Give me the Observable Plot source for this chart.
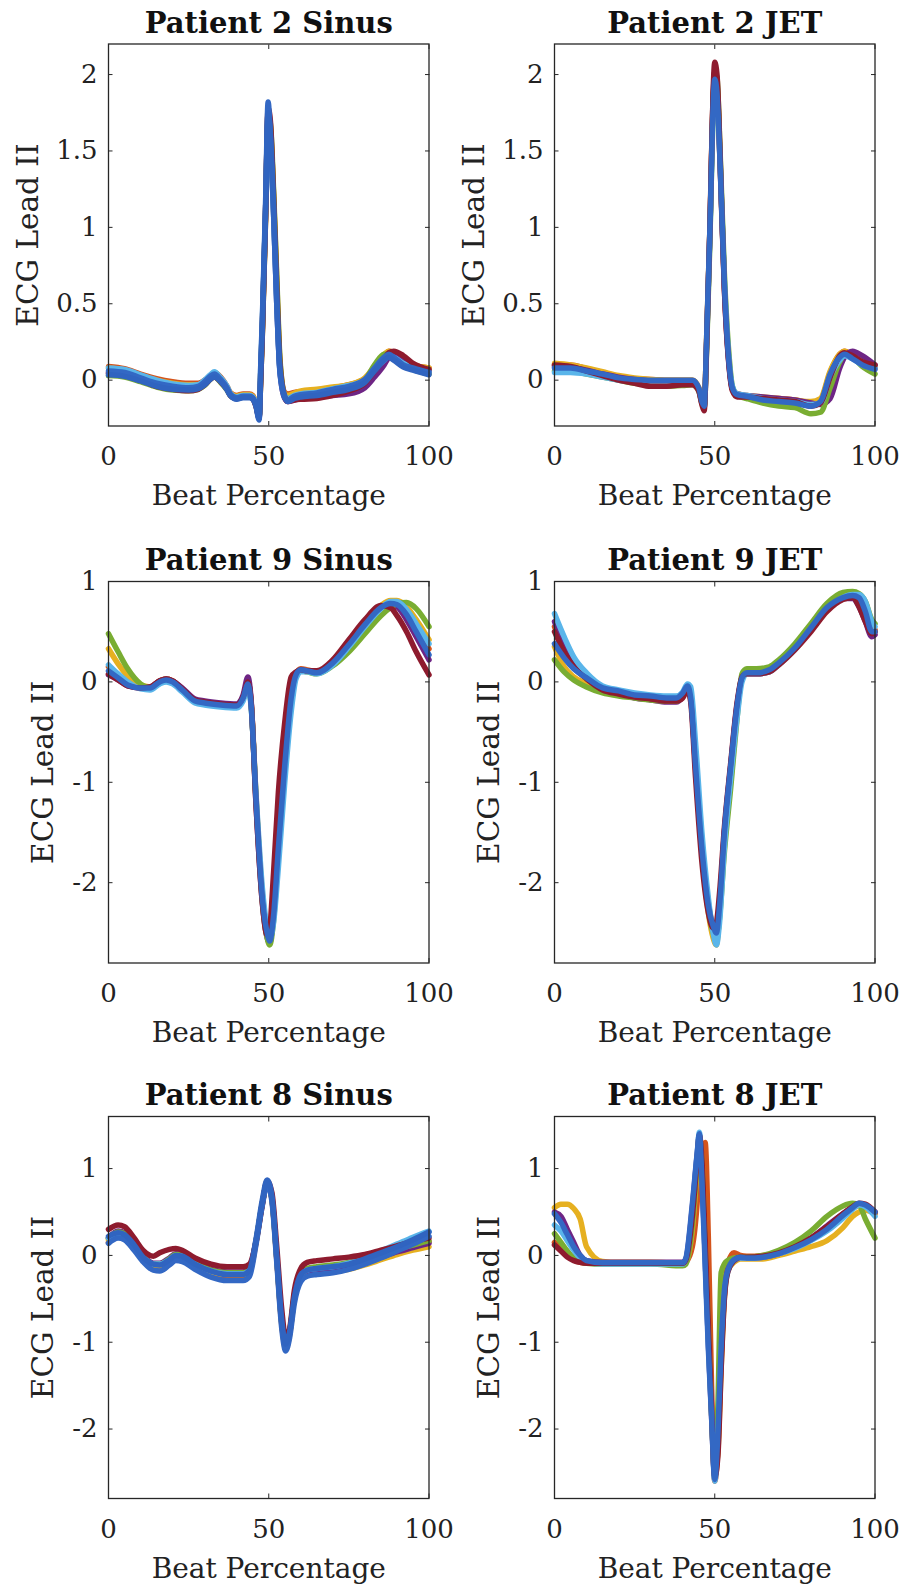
<!DOCTYPE html>
<html><head><meta charset="utf-8">
<script src="https://cdn.jsdelivr.net/npm/d3@7"></script>
<script src="https://cdn.jsdelivr.net/npm/@observablehq/plot@0.6"></script>
<style>
body{margin:0;background:#fff}
#chart{position:relative;width:902px;height:1594px;overflow:hidden;background:#fff}
#chart svg{position:absolute}
</style>
</head><body><div id="chart"></div>
<script>
// Trace colours (draw order): orange, yellow, purple, green, light blue, dark red, blue, blue
const traceColors = ["#D4541C","#E6B020","#6E2585","#79AD32","#5AB5EA","#8E1B2E","#3368C4","#3064C0"];
const xDomain = [0, 100];
const xTicks = [0, 50, 100];
const xLabel = "Beat Percentage";
const yLabel = "ECG Lead II";
const titles = ["Patient 2 Sinus","Patient 2 JET","Patient 9 Sinus","Patient 9 JET","Patient 8 Sinus","Patient 8 JET"];

// Patient 2 Sinus
const p2sX = [0,5,10,15,20,25,28,30,32,33,35,37,38,40,42,44,45,46,47,47.5,48,49,49.8,50.5,51.5,52.5,53.5,55,56,58,60,65,70,75,80,83,86,87.5,89,92,95,100];
const p2sY = [
 [0.09,0.075,0.04,0.01,-0.01,-0.02,-0.02,0.0,0.035,0.05,0.02,-0.04,-0.08,-0.1,-0.09,-0.09,-0.1,-0.15,-0.23,0.05,0.35,1.1,1.76,1.66,1.22,0.65,0.12,-0.08,-0.09,-0.08,-0.075,-0.07,-0.05,-0.03,0.01,0.08,0.16,0.19,0.18,0.14,0.1,0.08],
 [0.08,0.065,0.03,0.0,-0.02,-0.03,-0.03,-0.005,0.03,0.045,0.01,-0.045,-0.085,-0.105,-0.095,-0.095,-0.105,-0.15,-0.24,0.05,0.33,1.08,1.72,1.6,1.12,0.55,0.08,-0.09,-0.1,-0.085,-0.07,-0.06,-0.045,-0.03,0.015,0.09,0.17,0.19,0.17,0.13,0.1,0.08],
 [0.05,0.04,0.01,-0.03,-0.05,-0.06,-0.05,-0.02,0.02,0.03,0.0,-0.055,-0.095,-0.12,-0.11,-0.11,-0.12,-0.165,-0.25,0.02,0.32,1.1,1.7,1.6,1.1,0.5,0.06,-0.12,-0.14,-0.13,-0.12,-0.11,-0.1,-0.09,-0.05,0.02,0.1,0.15,0.17,0.15,0.1,0.06],
 [0.03,0.02,-0.01,-0.045,-0.065,-0.07,-0.06,-0.035,0.01,0.02,-0.015,-0.065,-0.1,-0.12,-0.11,-0.11,-0.12,-0.165,-0.24,0.0,0.3,1.05,1.7,1.68,1.25,0.68,0.14,-0.1,-0.12,-0.11,-0.1,-0.09,-0.07,-0.05,0.0,0.1,0.17,0.17,0.14,0.1,0.07,0.04],
 [0.08,0.07,0.035,0.0,-0.025,-0.035,-0.03,0.0,0.04,0.055,0.015,-0.04,-0.085,-0.11,-0.1,-0.1,-0.11,-0.15,-0.24,0.08,0.38,1.1,1.75,1.58,1.08,0.5,0.06,-0.1,-0.12,-0.1,-0.09,-0.08,-0.055,-0.035,0.0,0.07,0.13,0.16,0.15,0.11,0.085,0.06],
 [0.045,0.03,0.0,-0.04,-0.06,-0.07,-0.06,-0.03,0.01,0.02,-0.01,-0.06,-0.1,-0.12,-0.11,-0.11,-0.12,-0.17,-0.24,0.0,0.3,1.05,1.78,1.7,1.2,0.6,0.1,-0.11,-0.14,-0.13,-0.125,-0.12,-0.1,-0.07,-0.02,0.06,0.14,0.18,0.19,0.16,0.11,0.07],
 [0.06,0.05,0.015,-0.02,-0.04,-0.05,-0.04,-0.01,0.03,0.04,0.005,-0.05,-0.09,-0.115,-0.105,-0.105,-0.115,-0.16,-0.25,0.1,0.4,1.15,1.82,1.6,1.1,0.5,0.05,-0.115,-0.13,-0.105,-0.095,-0.083,-0.06,-0.04,0.005,0.08,0.15,0.17,0.15,0.1,0.08,0.05],
 [0.035,0.025,-0.005,-0.04,-0.06,-0.065,-0.055,-0.03,0.01,0.02,-0.01,-0.065,-0.1,-0.125,-0.115,-0.115,-0.125,-0.17,-0.26,0.05,0.35,1.1,1.75,1.62,1.15,0.55,0.07,-0.11,-0.14,-0.12,-0.11,-0.1,-0.08,-0.06,-0.015,0.06,0.13,0.15,0.13,0.085,0.065,0.035]
];
const p2sYDomain = [-0.3, 2.2];
const p2sYTicks = [0, 0.5, 1, 1.5, 2];

// Patient 2 JET
const p2jX = [0,5,10,15,20,25,30,35,40,43,45,46,46.7,47.5,48.5,49.5,50,50.7,51.7,53,54.5,55.5,57,60,65,70,75,80,83,86,89,90.5,93,96,100];
const p2jY = [
 [0.1,0.1,0.075,0.05,0.025,0.01,0.005,0.0,0.0,0.0,-0.05,-0.13,-0.16,0.28,0.98,1.82,1.98,1.93,1.42,0.64,0.11,-0.06,-0.1,-0.11,-0.12,-0.12,-0.13,-0.15,-0.13,0.05,0.17,0.19,0.16,0.12,0.09],
 [0.11,0.1,0.08,0.055,0.03,0.015,0.005,0.0,0.0,0.0,-0.05,-0.13,-0.16,0.3,1.0,1.84,1.97,1.9,1.4,0.62,0.1,-0.05,-0.09,-0.1,-0.11,-0.12,-0.13,-0.14,-0.12,0.06,0.17,0.19,0.16,0.11,0.08],
 [0.09,0.085,0.065,0.04,0.02,0.005,-0.005,-0.01,-0.01,-0.01,-0.06,-0.15,-0.18,0.27,0.98,1.85,2.02,1.95,1.4,0.6,0.09,-0.06,-0.09,-0.1,-0.11,-0.12,-0.13,-0.15,-0.16,-0.12,0.08,0.15,0.19,0.16,0.1],
 [0.06,0.06,0.04,0.02,0.0,-0.02,-0.03,-0.04,-0.035,-0.03,-0.07,-0.15,-0.18,0.22,0.92,1.8,2.02,1.98,1.48,0.7,0.15,-0.04,-0.1,-0.12,-0.15,-0.17,-0.18,-0.22,-0.21,-0.05,0.12,0.17,0.15,0.09,0.04],
 [0.05,0.05,0.04,0.02,0.0,-0.01,-0.02,-0.02,-0.02,-0.02,-0.06,-0.14,-0.17,0.25,0.95,1.75,1.92,1.88,1.42,0.66,0.12,-0.04,-0.09,-0.1,-0.12,-0.13,-0.14,-0.16,-0.15,0.02,0.13,0.16,0.14,0.1,0.08],
 [0.1,0.09,0.06,0.03,0.0,-0.02,-0.04,-0.04,-0.03,-0.03,-0.07,-0.16,-0.2,0.25,1.0,1.9,2.08,2.0,1.45,0.6,0.08,-0.07,-0.11,-0.11,-0.12,-0.13,-0.14,-0.17,-0.15,0.02,0.16,0.18,0.16,0.12,0.1],
 [0.08,0.08,0.06,0.04,0.015,0.005,0.0,0.0,0.0,0.0,-0.05,-0.14,-0.17,0.3,1.0,1.8,1.97,1.88,1.4,0.63,0.1,-0.05,-0.095,-0.105,-0.13,-0.14,-0.15,-0.17,-0.14,0.04,0.15,0.17,0.14,0.1,0.07]
];
const p2jYDomain = [-0.3, 2.2];
const p2jYTicks = [0, 0.5, 1, 1.5, 2];

// Patient 9 Sinus
const p9sX = [0,3,6,10,13,16,18,20,23,27,30,35,40,42,43.5,44.5,46,48,49.5,50.3,51.5,53,55,57,58.5,60,62,65,70,75,80,85,88,90,93,96,100];
const p9sY = [
 [0.15,0.06,-0.02,-0.05,-0.05,0.01,0.03,0.01,-0.07,-0.18,-0.2,-0.22,-0.23,-0.15,0.0,-0.2,-1.12,-2.12,-2.48,-2.55,-2.3,-1.6,-0.78,-0.12,0.08,0.13,0.12,0.1,0.2,0.38,0.58,0.75,0.8,0.79,0.7,0.55,0.33],
 [0.33,0.18,0.06,-0.03,-0.05,0.01,0.03,0.01,-0.07,-0.18,-0.2,-0.22,-0.23,-0.15,-0.01,-0.21,-1.14,-2.14,-2.5,-2.57,-2.32,-1.64,-0.8,-0.14,0.07,0.12,0.11,0.09,0.19,0.37,0.58,0.76,0.81,0.81,0.75,0.62,0.42],
 [0.07,0.02,-0.04,-0.06,-0.05,0.01,0.03,0.01,-0.06,-0.17,-0.19,-0.21,-0.22,-0.13,0.05,-0.18,-1.2,-2.2,-2.55,-2.6,-2.3,-1.6,-0.8,-0.15,0.07,0.12,0.11,0.1,0.2,0.38,0.58,0.74,0.77,0.75,0.62,0.45,0.22],
 [0.48,0.3,0.13,-0.02,-0.06,-0.01,0.01,0.0,-0.08,-0.19,-0.21,-0.23,-0.24,-0.17,-0.03,-0.23,-1.15,-2.18,-2.55,-2.62,-2.38,-1.7,-0.85,-0.18,0.06,0.11,0.1,0.08,0.16,0.3,0.48,0.66,0.74,0.78,0.79,0.73,0.55],
 [0.17,0.08,0.0,-0.07,-0.08,-0.02,0.0,-0.02,-0.1,-0.21,-0.23,-0.25,-0.26,-0.19,-0.06,-0.25,-1.1,-2.05,-2.45,-2.55,-2.4,-1.85,-1.0,-0.3,0.03,0.1,0.1,0.08,0.17,0.35,0.55,0.73,0.8,0.8,0.72,0.58,0.38],
 [0.08,0.02,-0.04,-0.06,-0.05,0.01,0.03,0.01,-0.07,-0.18,-0.2,-0.22,-0.23,-0.15,0.0,-0.2,-1.2,-2.2,-2.52,-2.45,-1.9,-1.1,-0.4,0.05,0.1,0.12,0.11,0.11,0.22,0.42,0.62,0.76,0.74,0.66,0.5,0.3,0.07],
 [0.11,0.04,-0.03,-0.06,-0.06,0.0,0.02,0.0,-0.08,-0.19,-0.21,-0.23,-0.24,-0.16,-0.02,-0.23,-1.16,-2.16,-2.5,-2.58,-2.33,-1.66,-0.83,-0.16,0.07,0.12,0.11,0.09,0.19,0.37,0.57,0.74,0.78,0.77,0.67,0.5,0.27]
];
const p9sYDomain = [-2.8, 1];
const p9sYTicks = [-2, -1, 0, 1];

// Patient 9 JET
const p9jX = [0,3,6,10,15,20,25,30,35,38,40,41.5,42.5,44,46,48,49.5,50.5,51.5,53,55,57,58.5,60,63,67,70,75,80,85,90,93,95,97,99,100];
const p9jY = [
 [0.55,0.33,0.17,0.05,-0.06,-0.1,-0.13,-0.15,-0.16,-0.16,-0.12,-0.05,-0.14,-0.8,-1.65,-2.2,-2.45,-2.52,-2.25,-1.52,-0.85,-0.24,0.04,0.1,0.1,0.12,0.19,0.35,0.55,0.75,0.86,0.87,0.85,0.72,0.55,0.52],
 [0.35,0.15,0.05,-0.02,-0.1,-0.13,-0.15,-0.17,-0.18,-0.18,-0.13,-0.06,-0.15,-0.8,-1.7,-2.3,-2.55,-2.62,-2.3,-1.55,-0.85,-0.25,0.04,0.1,0.1,0.12,0.2,0.36,0.56,0.76,0.87,0.88,0.85,0.7,0.5,0.5],
 [0.6,0.35,0.17,0.05,-0.07,-0.12,-0.16,-0.18,-0.2,-0.2,-0.15,-0.07,-0.17,-0.85,-1.7,-2.25,-2.45,-2.48,-2.2,-1.5,-0.83,-0.22,0.04,0.08,0.08,0.1,0.18,0.33,0.53,0.72,0.83,0.83,0.75,0.6,0.45,0.47],
 [0.22,0.1,0.02,-0.05,-0.11,-0.14,-0.16,-0.18,-0.19,-0.19,-0.14,-0.06,-0.14,-0.75,-1.6,-2.25,-2.5,-2.58,-2.35,-1.7,-1.05,-0.35,0.08,0.13,0.13,0.15,0.22,0.38,0.58,0.78,0.89,0.9,0.88,0.8,0.62,0.58],
 [0.68,0.45,0.25,0.09,-0.04,-0.08,-0.11,-0.13,-0.14,-0.14,-0.1,-0.02,-0.05,-0.6,-1.5,-2.15,-2.5,-2.62,-2.4,-1.65,-0.95,-0.35,0.0,0.08,0.08,0.1,0.17,0.32,0.52,0.72,0.84,0.87,0.87,0.8,0.6,0.55],
 [0.5,0.3,0.15,0.03,-0.08,-0.12,-0.15,-0.17,-0.19,-0.19,-0.16,-0.08,-0.2,-0.95,-1.8,-2.3,-2.45,-2.4,-2.1,-1.45,-0.8,-0.2,0.05,0.08,0.08,0.1,0.17,0.32,0.5,0.7,0.82,0.84,0.75,0.6,0.48,0.5],
 [0.38,0.24,0.13,0.04,-0.06,-0.09,-0.13,-0.14,-0.16,-0.16,-0.11,-0.04,-0.16,-0.83,-1.66,-2.23,-2.43,-2.5,-2.23,-1.5,-0.83,-0.23,0.04,0.09,0.09,0.12,0.19,0.34,0.54,0.74,0.84,0.86,0.84,0.7,0.5,0.5]
];
const p9jYDomain = [-2.8, 1];
const p9jYTicks = [-2, -1, 0, 1];

// Patient 8 Sinus
const p8sX = [0,3,5,8,11,14,16,19,21,23,27,32,37,42,44,46,48,49.5,51,52.5,54,55.3,56.5,58,60,62,65,70,75,80,85,90,95,100];
const p8sY = [
 [0.15,0.23,0.21,0.1,-0.05,-0.13,-0.14,-0.07,-0.02,-0.03,-0.12,-0.21,-0.25,-0.25,-0.2,0.14,0.6,0.84,0.64,-0.05,-0.78,-1.05,-0.9,-0.48,-0.24,-0.18,-0.16,-0.14,-0.11,-0.06,0.0,0.05,0.1,0.16],
 [0.18,0.25,0.23,0.11,-0.04,-0.12,-0.12,-0.06,-0.01,-0.02,-0.1,-0.19,-0.22,-0.22,-0.18,0.15,0.6,0.84,0.66,-0.02,-0.75,-1.08,-0.92,-0.5,-0.26,-0.22,-0.21,-0.19,-0.16,-0.11,-0.05,0.01,0.06,0.1],
 [0.2,0.28,0.26,0.14,-0.01,-0.09,-0.09,-0.03,0.02,0.01,-0.08,-0.16,-0.19,-0.19,-0.15,0.16,0.6,0.84,0.65,-0.03,-0.75,-1.03,-0.9,-0.48,-0.22,-0.18,-0.17,-0.16,-0.13,-0.08,-0.02,0.04,0.09,0.14],
 [0.2,0.27,0.25,0.13,-0.02,-0.1,-0.1,-0.04,0.01,0.0,-0.09,-0.17,-0.2,-0.2,-0.16,0.16,0.6,0.84,0.65,-0.03,-0.76,-1.03,-0.88,-0.45,-0.2,-0.15,-0.13,-0.11,-0.08,-0.04,0.01,0.07,0.12,0.17],
 [0.2,0.25,0.23,0.12,-0.03,-0.1,-0.1,-0.05,0.0,-0.01,-0.1,-0.18,-0.21,-0.21,-0.17,0.16,0.6,0.85,0.66,-0.02,-0.75,-1.04,-0.9,-0.48,-0.22,-0.17,-0.15,-0.13,-0.09,-0.03,0.05,0.13,0.21,0.28],
 [0.3,0.35,0.33,0.2,0.05,-0.01,0.03,0.07,0.08,0.06,-0.03,-0.1,-0.13,-0.13,-0.1,0.15,0.58,0.86,0.72,0.1,-0.6,-0.95,-0.85,-0.4,-0.15,-0.08,-0.06,-0.04,-0.02,0.01,0.06,0.11,0.16,0.2],
 [0.14,0.2,0.18,0.06,-0.08,-0.17,-0.18,-0.11,-0.06,-0.07,-0.16,-0.25,-0.29,-0.29,-0.24,0.12,0.58,0.82,0.62,-0.08,-0.82,-1.1,-0.95,-0.55,-0.3,-0.24,-0.22,-0.2,-0.16,-0.1,-0.03,0.05,0.13,0.22],
 [0.22,0.26,0.24,0.12,-0.03,-0.1,-0.11,-0.05,0.0,-0.01,-0.1,-0.18,-0.22,-0.22,-0.17,0.18,0.64,0.87,0.68,0.0,-0.72,-1.02,-0.88,-0.48,-0.22,-0.17,-0.15,-0.13,-0.1,-0.04,0.03,0.1,0.18,0.27]
];
const p8sYDomain = [-2.8, 1.6];
const p8sYTicks = [-2, -1, 0, 1];

// Patient 8 JET
const p8jX = [0,2,4,6,8,10,15,20,30,40,41,43,44.5,45.2,46,47,48,49,50,51,52,53,54,56,58,60,65,70,75,80,85,90,93,95,97,100];
const p8jY = [
 [0.15,0.08,0.0,-0.05,-0.08,-0.09,-0.09,-0.09,-0.09,-0.1,-0.08,0.1,0.6,1.0,1.2,1.3,0.2,-1.5,-2.6,-2.2,-1.2,-0.45,-0.1,0.03,0.0,-0.01,0.0,0.03,0.09,0.19,0.33,0.47,0.54,0.58,0.56,0.48],
 [0.55,0.59,0.59,0.54,0.42,0.1,-0.07,-0.08,-0.08,-0.09,-0.08,0.3,1.0,1.3,1.1,0.2,-0.8,-1.8,-2.5,-2.25,-1.3,-0.5,-0.18,-0.08,-0.04,-0.04,-0.04,0.0,0.05,0.1,0.17,0.32,0.45,0.5,0.52,0.48],
 [0.5,0.45,0.3,0.15,0.0,-0.06,-0.08,-0.08,-0.08,-0.08,-0.04,0.55,1.15,1.38,0.95,0.0,-1.0,-1.85,-2.55,-2.1,-1.15,-0.45,-0.17,-0.06,-0.03,-0.03,-0.02,0.02,0.1,0.2,0.34,0.48,0.55,0.58,0.57,0.5],
 [0.25,0.15,0.05,-0.03,-0.07,-0.09,-0.1,-0.1,-0.1,-0.12,-0.1,0.35,1.05,1.35,1.05,0.1,-0.9,-1.8,-2.5,-1.7,-0.2,-0.1,-0.06,-0.03,-0.02,-0.02,0.0,0.06,0.15,0.28,0.45,0.57,0.6,0.58,0.42,0.2],
 [0.35,0.28,0.17,0.06,-0.03,-0.08,-0.1,-0.1,-0.1,-0.1,-0.05,0.5,1.15,1.42,0.95,0.0,-1.0,-1.8,-2.6,-2.1,-1.15,-0.45,-0.2,-0.06,-0.03,-0.03,-0.02,0.02,0.08,0.17,0.28,0.43,0.53,0.58,0.56,0.45],
 [0.12,0.05,-0.02,-0.06,-0.08,-0.09,-0.09,-0.09,-0.09,-0.09,-0.05,0.45,1.1,1.38,1.1,0.2,-0.8,-1.75,-2.55,-2.3,-1.3,-0.5,-0.2,-0.06,-0.02,-0.02,-0.01,0.03,0.1,0.2,0.33,0.48,0.56,0.6,0.59,0.5],
 [0.48,0.38,0.24,0.1,0.0,-0.06,-0.085,-0.085,-0.085,-0.085,-0.03,0.59,1.17,1.4,0.86,-0.1,-1.07,-1.85,-2.58,-2.03,-1.07,-0.41,-0.18,-0.05,-0.02,-0.03,-0.02,0.02,0.09,0.18,0.3,0.46,0.55,0.6,0.58,0.5]
];
const p8jYDomain = [-2.8, 1.6];
const p8jYTicks = [-2, -1, 0, 1];

const panels = [
  {title: titles[0], X: p2sX, Y: p2sY, yDomain: p2sYDomain, yTicks: p2sYTicks},
  {title: titles[1], X: p2jX, Y: p2jY, yDomain: p2jYDomain, yTicks: p2jYTicks},
  {title: titles[2], X: p9sX, Y: p9sY, yDomain: p9sYDomain, yTicks: p9sYTicks},
  {title: titles[3], X: p9jX, Y: p9jY, yDomain: p9jYDomain, yTicks: p9jYTicks},
  {title: titles[4], X: p8sX, Y: p8sY, yDomain: p8sYDomain, yTicks: p8sYTicks},
  {title: titles[5], X: p8jX, Y: p8jY, yDomain: p8jYDomain, yTicks: p8jYTicks}
];

// layout per row: svg top, margins, svg height, y-label offset
const rows = [
  {top: 0, marginTop: 43.5, marginBottom: 104.5, height: 530, yLabelDx: -71},
  {top: 531, marginTop: 50, marginBottom: 98.5, height: 530, yLabelDx: -56},
  {top: 1066, marginTop: 50, marginBottom: 96, height: 528, yLabelDx: -56}
];
const colLeft = [0, 446];
const ink = "#222";
const axisInk = "#262626";
const font = "'DejaVu Serif', 'Liberation Serif', serif";

const chart = document.getElementById("chart");
panels.forEach((p, k) => {
  const r = rows[Math.floor(k / 2)];
  const lines = p.Y.map((ys, i) => Plot.line(p.X.map((x, j) => ({x, y: ys[j]})), {
    x: "x", y: "y", stroke: traceColors[i], strokeWidth: 5.5, curve: "monotone-x",
    strokeLinejoin: "round", strokeLinecap: "round"
  }));
  const svg = Plot.plot({
    width: 451, height: r.height,
    marginLeft: 108, marginRight: 22.5, marginTop: r.marginTop, marginBottom: r.marginBottom,
    style: {fontFamily: font, background: "transparent", overflow: "visible", color: ink},
    x: {domain: xDomain},
    y: {domain: p.yDomain},
    marks: [
      ...lines,
      Plot.frame({stroke: axisInk, strokeWidth: 1.3}),
      Plot.axisX({anchor: "bottom", ticks: xTicks, tickSize: 0, tickPadding: 21, label: null, fontSize: 26, fill: ink}),
      Plot.axisX({anchor: "bottom", ticks: xTicks, tickSize: -4.5, tickFormat: () => "", label: null, stroke: axisInk}),
      Plot.axisX({anchor: "top", ticks: xTicks, tickSize: -4.5, tickFormat: () => "", label: null, stroke: axisInk}),
      Plot.axisY({anchor: "left", ticks: p.yTicks, tickSize: 0, tickPadding: 11, label: null, fontSize: 26, fill: ink, tickFormat: d => String(d)}),
      Plot.axisY({anchor: "left", ticks: p.yTicks, tickSize: -4.5, tickFormat: () => "", label: null, stroke: axisInk}),
      Plot.axisY({anchor: "right", ticks: p.yTicks, tickSize: -4.5, tickFormat: () => "", label: null, stroke: axisInk}),
      Plot.text([p.title], {frameAnchor: "top", text: d => d, textAnchor: "middle", lineAnchor: "bottom", dy: -11.5, fontSize: 29, fontWeight: "bold", fill: "#111"}),
      Plot.text([xLabel], {frameAnchor: "bottom", text: d => d, textAnchor: "middle", lineAnchor: "bottom", dy: 79, fontSize: 28, fill: ink}),
      Plot.text([yLabel], {frameAnchor: "left", text: d => d, textAnchor: "middle", lineAnchor: "bottom", rotate: -90, dx: r.yLabelDx, fontSize: 29.5, fill: ink})
    ]
  });
  svg.style.left = colLeft[k % 2] + "px";
  svg.style.top = r.top + "px";
  chart.appendChild(svg);
});
</script>
</body></html>
